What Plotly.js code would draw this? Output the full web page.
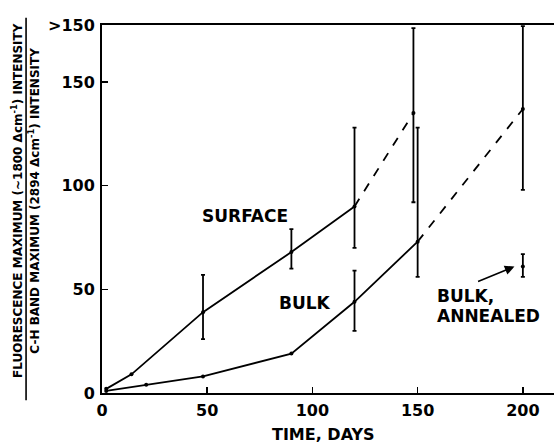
<!DOCTYPE html>
<html>
<head>
<meta charset="utf-8">
<script src="https://cdn.plot.ly/plotly-3.0.1.min.js"></script>
<style>html,body{margin:0;padding:0;background:#fff;}#chart{width:554px;height:445px;}</style>
</head>
<body>
<div id="chart"></div>
<script>
// ---- data ----
const surfaceDays = [2, 14, 48, 90, 120, 148];
const surfaceVals = [2, 9, 39, 68, 90, 135];
const surfaceErrPlus = [NaN, NaN, 18, 11, 38, 41];
const surfaceErrMinus = [NaN, NaN, 13, 8, 20, 43];

const bulkDays = [2, 21, 48, 90, 120, 150, 200];
const bulkVals = [1, 4, 8, 19, 44, 73, 137];
const bulkErrPlus = [NaN, NaN, NaN, NaN, 15, 55, 40];
const bulkErrMinus = [NaN, NaN, NaN, NaN, 14, 17, 39];

const annealedDays = [200];
const annealedVals = [61];
const annealedErrPlus = [6];
const annealedErrMinus = [5];

const xTickVals = [0, 50, 100, 150, 200];
const xTickText = ["0", "50", "100", "150", "200"];
const yTickVals = [0, 50, 100, 150, 177.5];
const yTickText = ["0", "50", "100", "150", ">150"];

const xTitle = "TIME, DAYS";
const yTitleTop = "FLUORESCENCE MAXIMUM (~1800 Δcm<sup>-1</sup>) INTENSITY";
const yTitleBottom = "C-H BAND MAXIMUM (2894 Δcm<sup>-1</sup>) INTENSITY";

// ---- styling ----
const INK = "#000";
const FONT = "DejaVu Sans";
const LW = 1.8;

function lineTrace(x, y, dash) {
  return {x: x, y: y, type: "scatter", mode: "lines",
          line: {color: INK, width: LW, dash: dash}, hoverinfo: "skip", showlegend: false};
}
function pointTrace(x, y, plus, minus) {
  return {x: x, y: y, type: "scatter", mode: "markers",
          marker: {color: INK, size: 4, symbol: "circle"},
          error_y: {type: "data", symmetric: false, array: plus, arrayminus: minus,
                    color: INK, thickness: 1.8, width: 2},
          hoverinfo: "skip", showlegend: false};
}

const data = [
  lineTrace(surfaceDays.slice(0, 5), surfaceVals.slice(0, 5), "solid"),
  lineTrace(surfaceDays.slice(4), surfaceVals.slice(4), "dash"),
  lineTrace(bulkDays.slice(0, 6), bulkVals.slice(0, 6), "solid"),
  lineTrace(bulkDays.slice(5), bulkVals.slice(5), "dash"),
  pointTrace(surfaceDays, surfaceVals, surfaceErrPlus, surfaceErrMinus),
  pointTrace(bulkDays, bulkVals, bulkErrPlus, bulkErrMinus),
  pointTrace(annealedDays, annealedVals, annealedErrPlus, annealedErrMinus)
];

const labelFont = {family: FONT, size: 17, color: INK, weight: "bold"};

const layout = {
  width: 554, height: 445,
  margin: {l: 102, r: 0, t: 25, b: 52, pad: 0},
  paper_bgcolor: "#fff", plot_bgcolor: "#fff",
  font: {family: FONT, color: INK, size: 16, weight: "bold"},
  showlegend: false,
  xaxis: {
    range: [0, 214.8], showgrid: false, zeroline: false,
    showline: true, linecolor: INK, linewidth: 2, mirror: true,
    ticks: "inside", ticklen: 6, tickwidth: 1.5, tickcolor: INK,
    tickvals: xTickVals, ticktext: xTickText,
    tickfont: {family: FONT, size: 16, color: INK, weight: "bold"},
    ticklabelstandoff: 2
  },
  yaxis: {
    range: [0, 177.5], showgrid: false, zeroline: false,
    showline: true, linecolor: INK, linewidth: 2, mirror: false,
    ticks: "inside", ticklen: 6, tickwidth: 1.5, tickcolor: INK,
    tickvals: yTickVals, ticktext: yTickText,
    tickfont: {family: FONT, size: 16, color: INK, weight: "bold"},
    ticklabelstandoff: 2
  },
  annotations: [
    {xref: "paper", yref: "paper", x: 0.489, y: -0.112, xanchor: "center", yanchor: "middle",
     text: xTitle, showarrow: false, font: {family: FONT, size: 16, color: INK, weight: "bold"}},
    {xref: "paper", yref: "paper", x: -0.188, y: 0.522, xanchor: "center", yanchor: "middle",
     textangle: -90, text: yTitleTop, showarrow: false,
     font: {family: FONT, size: 12, color: INK, weight: "bold"}},
    {xref: "paper", yref: "paper", x: -0.151, y: 0.522, xanchor: "center", yanchor: "middle",
     textangle: -90, text: yTitleBottom, showarrow: false,
     font: {family: FONT, size: 12, color: INK, weight: "bold"}},
    {xref: "x", yref: "y", x: 68, y: 85.4, xanchor: "center", yanchor: "middle",
     text: "SURFACE", showarrow: false, font: labelFont},
    {xref: "x", yref: "y", x: 96.4, y: 43.4, xanchor: "center", yanchor: "middle",
     text: "BULK", showarrow: false, font: labelFont},
    {xref: "x", yref: "y", x: 158.2, y: 46.8, xanchor: "left", yanchor: "middle",
     text: "BULK,", showarrow: false, font: labelFont},
    {xref: "x", yref: "y", x: 158.2, y: 37.1, xanchor: "left", yanchor: "middle",
     text: "ANNEALED", showarrow: false, font: labelFont},
    {xref: "x", yref: "y", axref: "x", ayref: "y", x: 196, y: 61, ax: 178, ay: 53.5,
     text: "", showarrow: true, arrowhead: 2, arrowsize: 1.2, arrowwidth: 1.6, arrowcolor: INK}
  ],
  shapes: [
    {type: "line", xref: "paper", yref: "paper", x0: -0.168, x1: -0.168, y0: -0.02, y1: 1.02,
     line: {color: INK, width: 1.6}}
  ]
};

Plotly.newPlot("chart", data, layout, {displayModeBar: false, staticPlot: true});
</script>
</body>
</html>
